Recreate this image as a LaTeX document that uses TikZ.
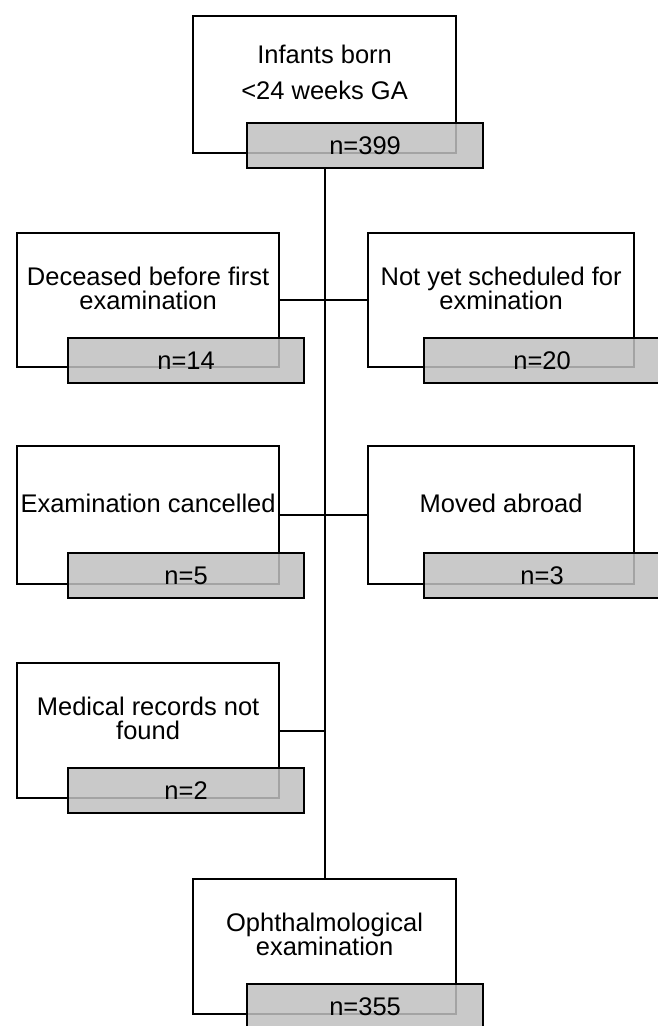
\documentclass[tikz,border=0pt]{standalone}
\usepackage{fontspec}
\setmainfont{Liberation Sans}
\usepackage{tikz}
\usetikzlibrary{calc}
\definecolor{countgrey}{RGB}{192,192,192}

\begin{document}
\begin{tikzpicture}[x=1pt, y=-1pt,
    casebox/.style={draw, line width=2.2pt, anchor=north west, inner sep=0pt, minimum height=135pt},
    casetext/.style={align=center, inner sep=0pt, yshift=12pt, font=\fontsize{25.5}{24}\selectfont},
    countbox/.style={draw, line width=2.2pt, fill=countgrey, fill opacity=0.85, text opacity=1,
      anchor=south east, inner sep=0pt, minimum width=236pt, minimum height=45pt,
      font=\fontsize{25.5}{24}\selectfont},
    link/.style={line width=2pt}]
  \useasboundingbox (0,0) rectangle (657,1026);

  \node[casebox, minimum width=263pt, minimum height=137pt,
        label={[casetext]center:Infants born\\[12pt]<24 weeks GA}] (born) at (192,15) {};
  \node[countbox] (bornn) at ([shift={(27,15)}]born.south east) {n=399};

  \node[casebox, minimum width=262pt, minimum height=134pt,
        label={[casetext]center:Deceased before first\\examination}] (dead) at (16,232) {};
  \node[countbox] (deadn) at ([shift={(25,16)}]dead.south east) {n=14};

  \node[casebox, minimum width=266pt, minimum height=134pt,
        label={[casetext]center:Not yet scheduled for\\exmination}] (notyet) at (367,232) {};
  \node[countbox] (notyetn) at ([shift={(26,16)}]notyet.south east) {n=20};

  \node[casebox, minimum width=262pt, minimum height=138pt,
        label={[casetext]center:Examination cancelled}] (cancel) at (16,445) {};
  \node[countbox] (canceln) at ([shift={(25,14)}]cancel.south east) {n=5};

  \node[casebox, minimum width=266pt, minimum height=138pt,
        label={[casetext]center:Moved abroad}] (abroad) at (367,445) {};
  \node[countbox] (abroadn) at ([shift={(26,14)}]abroad.south east) {n=3};

  \node[casebox, minimum width=262pt, minimum height=135pt,
        label={[casetext]center:Medical records not\\found}] (records) at (16,662) {};
  \node[countbox] (recordsn) at ([shift={(25,15)}]records.south east) {n=2};

  \node[casebox, minimum width=263pt, minimum height=135pt,
        label={[casetext]center:Ophthalmological\\examination}] (opht) at (192,878) {};
  \node[countbox] (ophtn) at ([shift={(27,15)}]opht.south east) {n=355};

  \draw[link] (born.center |- bornn.south) -- (opht.north);
  \draw[link] (dead.east) -- (notyet.west);
  \draw[link] (cancel.east) -- (abroad.west);
  \draw[link] (records.east) -- (records.east -| born.center);
\end{tikzpicture}
\end{document}
